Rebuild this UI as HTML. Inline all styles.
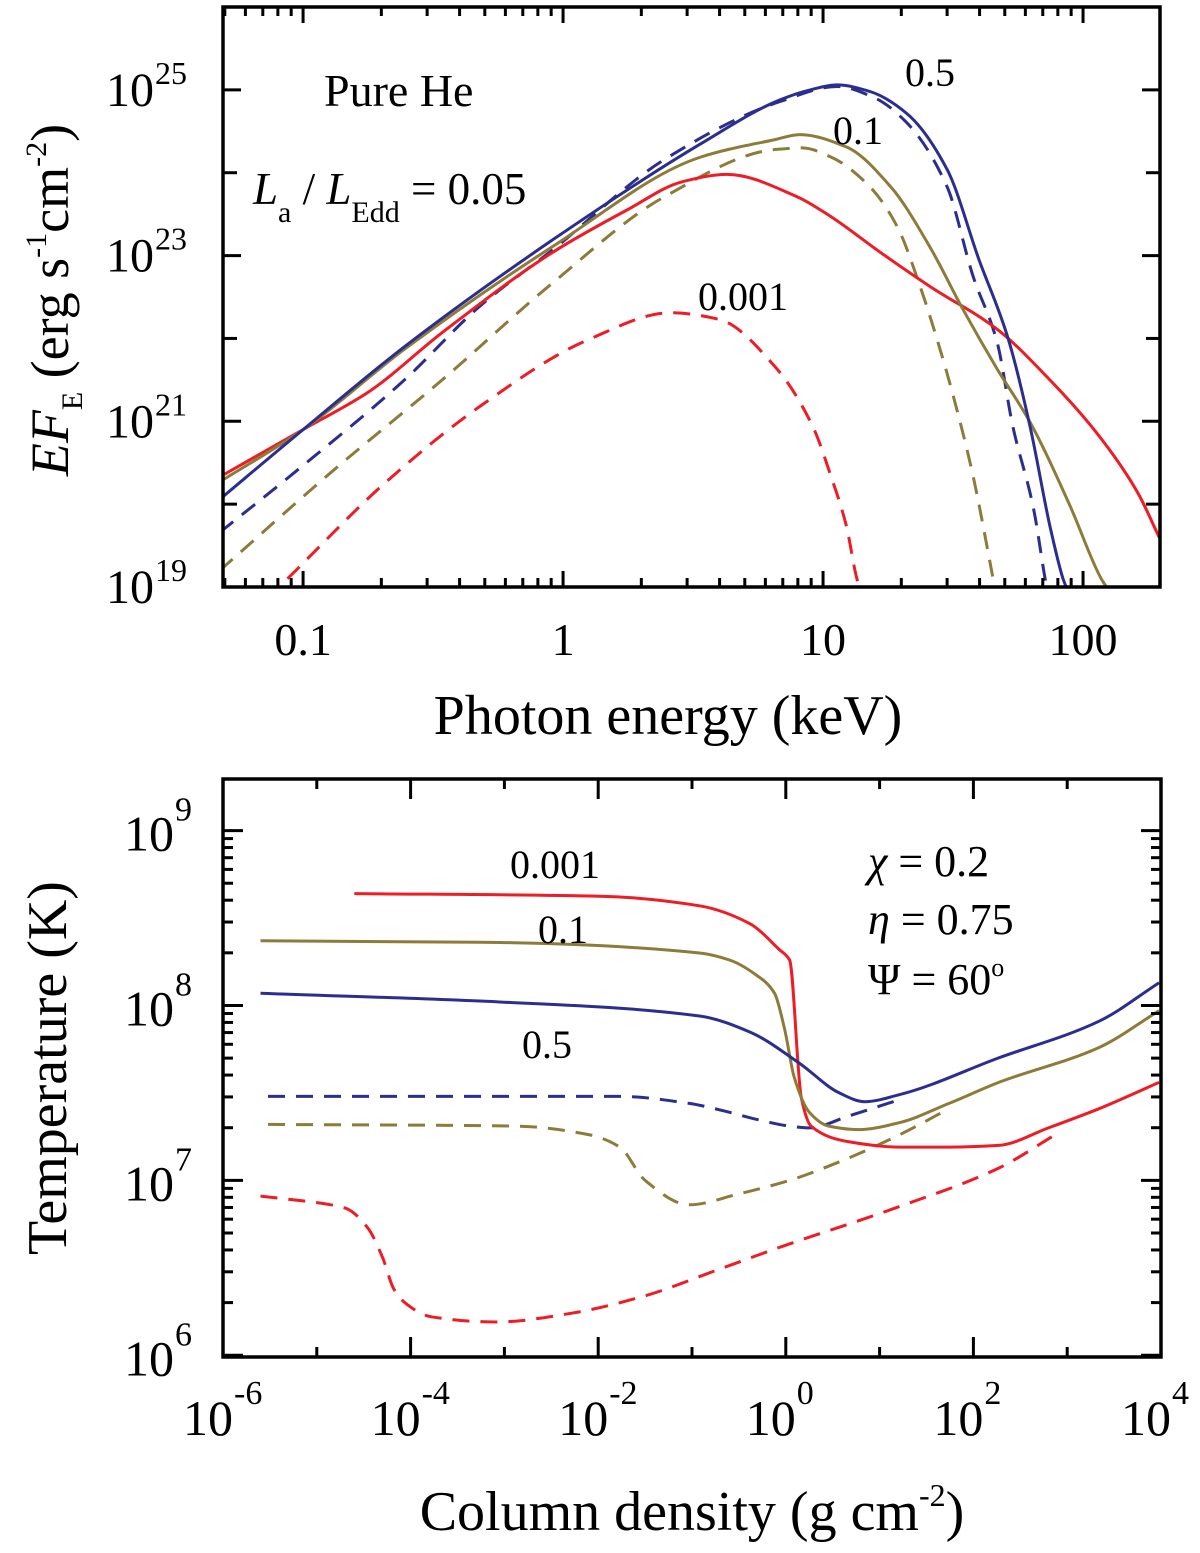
<!DOCTYPE html>
<html><head><meta charset="utf-8"><style>
body{margin:0;background:#fff}
svg text{font-family:"Liberation Serif",serif;fill:#000}
</style></head><body>
<svg id="fig" width="1200" height="1548" viewBox="0 0 1200 1548" xmlns="http://www.w3.org/2000/svg">
<g id="gtop"></g>
<g id="gbot"></g>
<text x="324" y="106" font-size="46">Pure He</text>
<text x="253" y="204" font-size="45"><tspan font-style="italic">L</tspan><tspan font-size="30" dy="18">a</tspan><tspan dy="-18"> / </tspan><tspan font-style="italic">L</tspan><tspan font-size="30" dy="18">Edd</tspan><tspan dy="-18"> = 0.05</tspan></text>
<text x="905" y="86" font-size="40">0.5</text>
<text x="833" y="144" font-size="40">0.1</text>
<text x="698" y="310" font-size="40">0.001</text>
<text x="668" y="734" font-size="56" text-anchor="middle">Photon energy (keV)</text>
<text transform="translate(68,300) rotate(-90)" font-size="54" text-anchor="middle"><tspan font-style="italic">EF</tspan><tspan font-size="30" dy="14">E</tspan><tspan dy="-14"> (erg s</tspan><tspan font-size="30" dy="-22">-1</tspan><tspan dy="22">cm</tspan><tspan font-size="30" dy="-22">-2</tspan><tspan dy="22">)</tspan></text>
<text x="510" y="878" font-size="40">0.001</text>
<text x="538" y="943" font-size="40">0.1</text>
<text x="522" y="1058" font-size="40">0.5</text>
<text x="868" y="876" font-size="44"><tspan font-style="italic">χ</tspan> = 0.2</text>
<text x="868" y="934" font-size="44"><tspan font-style="italic">η</tspan> = 0.75</text>
<text x="868" y="994" font-size="44">Ψ = 60<tspan font-size="26" dy="-18">o</tspan></text>
<text x="692" y="1530" font-size="56" text-anchor="middle">Column density (g cm<tspan font-size="32" dy="-24">-2</tspan><tspan dy="24">)</tspan></text>
<text transform="translate(66,1068) rotate(-90)" font-size="56" text-anchor="middle">Temperature (K)</text>
</svg>
<script>
// ---- top panel data (log10 E [keV], log10 EF_E) ----
const blueSolidE=[-1.32,-1.0,-0.61,-0.04,0.53,0.835,0.95,1.054,1.18,1.32,1.477,1.60,1.71,1.796,1.873,1.923,1.935];
const blueSolidF=[20.06,20.9,21.9,23.19,24.35,24.88,25.0,25.06,24.98,24.72,24.04,22.95,22.02,20.94,19.73,19.1,19.0];
const blueDashE=[-1.32,-1.03,-0.61,-0.32,-0.04,0.39,0.835,1.054,1.2,1.32,1.477,1.577,1.67,1.73,1.81,1.854,1.86];
const blueDashF=[19.66,20.39,21.5,22.39,23.07,24.16,24.86,25.04,24.9,24.61,23.83,22.75,21.95,20.94,19.94,19.1,19.0];
const goldSolidE=[-1.32,-1.0,-0.61,-0.04,0.53,0.815,0.91,1.09,1.26,1.41,1.535,1.67,1.796,1.95,2.07,2.09];
const goldSolidF=[20.27,20.9,21.87,23.11,24.19,24.4,24.46,24.31,23.83,23.11,22.37,21.63,20.99,19.98,19.1,19.0];
const goldDashE=[-1.32,-0.89,-0.465,-0.04,0.39,0.815,0.92,1.03,1.18,1.285,1.373,1.45,1.515,1.577,1.654,1.66];
const goldDashF=[19.2,20.39,21.5,22.67,23.71,24.28,24.3,24.19,23.83,23.35,22.63,21.87,21.14,20.34,19.1,19.0];
const redSolidE=[-1.32,-1.0,-0.75,-0.465,-0.04,0.246,0.458,0.63,0.9,1.03,1.22,1.41,1.67,1.86,2.05,2.21,2.296];
const redSolidF=[20.33,20.9,21.35,22.07,23.04,23.55,23.89,23.98,23.71,23.47,23.04,22.63,22.11,21.54,20.87,20.14,19.58];
const redDashE=[-1.06,-0.68,-0.32,0.1,0.415,0.6,0.815,0.96,1.03,1.09,1.13,1.14];
const redDashF=[19.1,20.27,21.18,21.99,22.31,22.23,21.66,20.94,20.34,19.73,19.1,19.0];
const topXTicks=["0.1","1","10","100"];
const topYTicks=["19","21","23","25"];
// ---- bottom panel data (log10 column density, log10 T) ----
const redSolN=[-4.6,-1.985,-0.92,-0.39,-0.07,0.04,0.166,0.27,0.68,1.21,1.74,2.27,2.8,3.34,3.98];
const redSolT=[8.64,8.625,8.57,8.47,8.32,8.26,7.47,7.31,7.22,7.19,7.19,7.2,7.3,7.41,7.56];
const goldSolN=[-5.6,-3.05,-0.92,-0.6,-0.33,-0.12,-0.015,0.09,0.25,0.46,0.78,1.21,1.74,2.27,3.34,3.98];
const goldSolT=[8.37,8.36,8.30,8.26,8.18,8.07,7.87,7.59,7.39,7.31,7.29,7.33,7.44,7.56,7.76,7.97];
const blueSolN=[-5.6,-3.05,-0.92,-0.39,0.145,0.57,0.84,1.21,2.27,3.34,3.98];
const blueSolT=[8.07,8.02,7.94,7.85,7.67,7.5,7.45,7.49,7.70,7.91,8.13];
const blueDashN=[-5.52,-1.77,-1.03,-0.68,-0.32,0.04,0.25,0.68,1.26];
const blueDashT=[7.48,7.48,7.44,7.40,7.35,7.31,7.30,7.37,7.47];
const goldDashN=[-5.52,-2.88,-2.09,-1.77,-1.5,-1.03,-0.52,0.04,0.68,1.21,1.74];
const goldDashT=[7.32,7.31,7.26,7.19,7.0,6.86,6.92,7.0,7.13,7.26,7.41];
const redDashN=[-5.6,-4.85,-4.69,-4.46,-4.3,-4.18,-4.06,-3.78,-3.08,-2.29,-1.5,-0.72,-0.05,1.21,2.27,2.9];
const redDashT=[6.91,6.86,6.84,6.73,6.56,6.38,6.30,6.22,6.19,6.24,6.34,6.49,6.62,6.85,7.07,7.27];
const botXTicks=["-6","-4","-2","0","2","4"];
const botYTicks=["6","7","8","9"];

const NS="http://www.w3.org/2000/svg";
const RED="#ee1c25",BLUE="#2b2e8f",GOLD="#8d7b3a";
function mk(parent,tag,attrs){const e=document.createElementNS(NS,tag);for(const k in attrs)e.setAttribute(k,attrs[k]);parent.appendChild(e);return e;}

const T={x0:223,x1:1160,y0:7,y1:587,lx0:-1.308,lx1:2.296,ly0:19,ly1:26};
const tx=v=>T.x0+(v-T.lx0)/(T.lx1-T.lx0)*(T.x1-T.x0);
const ty=v=>T.y1-(v-T.ly0)/(T.ly1-T.ly0)*(T.y1-T.y0);
const B={x0:223,x1:1161,y0:779,y1:1357,lx0:-6,lx1:4,ly0:5.99,ly1:9.295};
const bx=v=>B.x0+(v-B.lx0)/(B.lx1-B.lx0)*(B.x1-B.x0);
const by=v=>B.y1-(v-B.ly0)/(B.ly1-B.ly0)*(B.y1-B.y0);

const gTop=document.getElementById('gtop'),gBot=document.getElementById('gbot');
function monoPath(X,Y){
  const n=X.length;if(n<2)return '';
  const d=[],m=new Array(n);
  for(let i=0;i<n-1;i++)d.push((Y[i+1]-Y[i])/(X[i+1]-X[i]));
  m[0]=d[0];m[n-1]=d[n-2];
  for(let i=1;i<n-1;i++){
    if(d[i-1]*d[i]<=0)m[i]=0;
    else{const h0=X[i]-X[i-1],h1=X[i+1]-X[i];const w1=2*h1+h0,w2=h1+2*h0;m[i]=(w1+w2)/(w1/d[i-1]+w2/d[i]);}
  }
  let s='M'+X[0].toFixed(1)+','+Y[0].toFixed(1);
  for(let i=0;i<n-1;i++){
    const h=(X[i+1]-X[i])/3;
    s+='C'+(X[i]+h).toFixed(1)+','+(Y[i]+m[i]*h).toFixed(1)+' '+(X[i+1]-h).toFixed(1)+','+(Y[i+1]-m[i+1]*h).toFixed(1)+' '+X[i+1].toFixed(1)+','+Y[i+1].toFixed(1);
  }
  return s;
}
function drawLine(g,xs,ys,fx,fy,color,dash,name,clip){
  const d=monoPath(xs.map(fx),ys.map(fy));
  const p=mk(g,'path',{d:d,fill:'none',stroke:color,'stroke-width':3,'stroke-linejoin':'round','clip-path':clip});
  if(dash)p.setAttribute('stroke-dasharray','17,11');
  
  
}
const defs=mk(document.getElementById('fig'),'defs',{});
const c1=mk(defs,'clipPath',{id:'ct'});mk(c1,'rect',{x:T.x0,y:T.y0,width:T.x1-T.x0,height:T.y1-T.y0});
const c2=mk(defs,'clipPath',{id:'cb'});mk(c2,'rect',{x:B.x0,y:B.y0,width:B.x1-B.x0,height:B.y1-B.y0});

drawLine(gTop,redDashE,redDashF,tx,ty,RED,true,'red-dashed-0001','url(#ct)');
drawLine(gTop,goldDashE,goldDashF,tx,ty,GOLD,true,'gold-dashed-01','url(#ct)');
drawLine(gTop,blueDashE,blueDashF,tx,ty,BLUE,true,'blue-dashed-05','url(#ct)');
drawLine(gTop,redSolidE,redSolidF,tx,ty,RED,false,'red-solid-0001','url(#ct)');
drawLine(gTop,goldSolidE,goldSolidF,tx,ty,GOLD,false,'gold-solid-01','url(#ct)');
drawLine(gTop,blueSolidE,blueSolidF,tx,ty,BLUE,false,'blue-solid-05','url(#ct)');

drawLine(gBot,redDashN,redDashT,bx,by,RED,true,'red-dashed-temp','url(#cb)');
drawLine(gBot,goldDashN,goldDashT,bx,by,GOLD,true,'gold-dashed-temp','url(#cb)');
drawLine(gBot,blueDashN,blueDashT,bx,by,BLUE,true,'blue-dashed-temp','url(#cb)');
drawLine(gBot,redSolN,redSolT,bx,by,RED,false,'red-solid-temp','url(#cb)');
drawLine(gBot,goldSolN,goldSolT,bx,by,GOLD,false,'gold-solid-temp','url(#cb)');
drawLine(gBot,blueSolN,blueSolT,bx,by,BLUE,false,'blue-solid-temp','url(#cb)');

function tick(g,x1,y1,x2,y2){mk(g,'line',{x1:x1,y1:y1,x2:x2,y2:y2,stroke:'#000','stroke-width':3});}
let f=mk(gTop,'rect',{x:T.x0,y:T.y0,width:T.x1-T.x0,height:T.y1-T.y0,fill:'none',stroke:'#000','stroke-width':3.5});


for(let d=-2;d<=2;d++)for(let m=1;m<=9;m++){
  const lv=d+Math.log10(m);if(lv<T.lx0||lv>T.lx1)continue;
  const x=tx(lv),L=m===1?16:9;
  tick(gTop,x,T.y1,x,T.y1-L);tick(gTop,x,T.y0,x,T.y0+L);
}
for(let v=19;v<=26;v++){const y=ty(v),L=v%2?18:14;tick(gTop,T.x0,y,T.x0+L,y);tick(gTop,T.x1,y,T.x1-L,y);}
topXTicks.forEach(s=>{const t=mk(gTop,'text',{x:tx(Math.log10(parseFloat(s))),y:655,'font-size':46,'text-anchor':'middle'});t.textContent=s;

});
topYTicks.forEach(s=>{const t=mk(gTop,'text',{x:154,y:ty(+s)+16,'font-size':48,'text-anchor':'end'});t.textContent='10';
const sp=mk(gTop,'text',{x:155,y:ty(+s)-6,'font-size':32});sp.textContent=s;



});
f=mk(gBot,'rect',{x:B.x0,y:B.y0,width:B.x1-B.x0,height:B.y1-B.y0,fill:'none',stroke:'#000','stroke-width':3.5});


for(let d=-6;d<=4;d++){const x=bx(d),L=d%2===0?20:10;tick(gBot,x,B.y1,x,B.y1-L);tick(gBot,x,B.y0,x,B.y0+L);}
for(let d=5;d<=9;d++)for(let m=1;m<=9;m++){
  const lv=d+Math.log10(m);if(lv<B.ly0||lv>B.ly1)continue;
  const y=by(lv),L=m===1?20:10;
  tick(gBot,B.x0,y,B.x0+L,y);tick(gBot,B.x1,y,B.x1-L,y);
}
botXTicks.forEach(s=>{const x=bx(+s);const t=mk(gBot,'text',{x:x+10,y:1435,'font-size':50,'text-anchor':'end'});t.textContent='10';
const sp=mk(gBot,'text',{x:x+11,y:1404,'font-size':34});sp.textContent=s;



});
botYTicks.forEach(s=>{const t=mk(gBot,'text',{x:174,y:by(+s)+20,'font-size':50,'text-anchor':'end'});t.textContent='10';
const sp=mk(gBot,'text',{x:175,y:by(+s)-10,'font-size':34});sp.textContent=s;



});
</script>
</body></html>
